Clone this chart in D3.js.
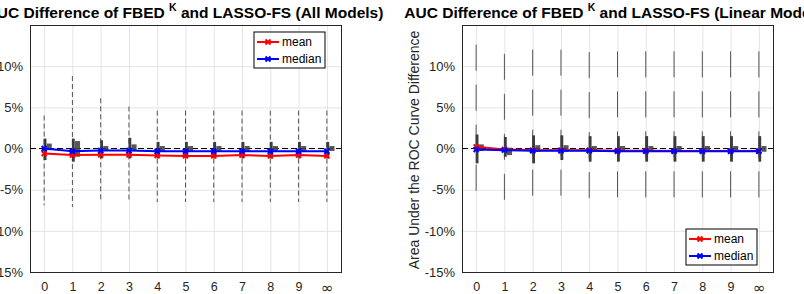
<!DOCTYPE html>
<html>
<head>
<meta charset="utf-8">
<script src="https://cdn.jsdelivr.net/npm/d3@7"></script>
<style>
  body { margin: 0; background: #fff; }
  svg { display: block; font-family: "Liberation Sans", Arial, sans-serif; }
</style>
</head>
<body>
<div id="root"></div>
<script>
// categories (K values) and y ticks
const categories = ['0', '1', '2', '3', '4', '5', '6', '7', '8', '9', '\u221E'];
const yTicks = [-15, -10, -5, 0, 5, 10];

// All Models panel (AUC difference, %)
const allMean = [-0.6, -0.8, -0.77, -0.77, -0.85, -0.9, -0.9, -0.8, -0.9, -0.8, -0.9];
const allMedian = [0, -0.33, -0.24, -0.24, -0.33, -0.33, -0.33, -0.33, -0.33, -0.33, -0.33];
const allWhiskerHi = [4.0, 8.8, 6.1, 5.1, 4.6, 4.6, 4.6, 4.6, 4.6, 4.6, 4.6];
const allWhiskerLo = [-6.9, -7.1, -6.5, -6.5, -6.5, -6.5, -6.5, -6.5, -6.5, -6.5, -6.5];
const allOuterHi = [1.2, 1.2, 1.0, 1.3, 0.8, 0.8, 0.8, 0.8, 0.8, 0.8, 0.8];
const allOuterLo = [-1.4, -1.6, -1.2, -1.2, -1.2, -1.2, -1.2, -1.2, -1.2, -1.2, -1.2];
const allBoxHi = [0.6, 0.9, 0.3, 0.5, 0.3, 0.3, 0.3, 0.3, 0.3, 0.3, 0.3];
const allBoxLo = [-0.2, -1.0, -0.2, -0.3, -0.3, -0.3, -0.3, -0.3, -0.3, -0.3, -0.3];

// Linear Models panel
const linMean = [0.2, -0.12, -0.22, -0.22, -0.22, -0.28, -0.28, -0.3, -0.3, -0.3, -0.3];
const linMedian = [-0.12, -0.2, -0.28, -0.28, -0.28, -0.33, -0.33, -0.33, -0.33, -0.33, -0.33];
const linWhiskerHi = [12.6, 11.5, 12.0, 12.0, 11.7, 11.8, 11.8, 11.8, 11.8, 11.8, 11.8];
const linWhiskerLo = [-6.5, -6.5, -6.5, -6.5, -6.5, -6.5, -6.5, -6.5, -6.5, -6.5, -6.5];
const linOuterHi = [1.7, 1.4, 1.6, 1.6, 1.5, 1.5, 1.5, 1.5, 1.5, 1.5, 1.5];
const linOuterLo = [-1.8, -1.0, -1.8, -1.4, -1.6, -1.6, -1.6, -1.6, -1.6, -1.6, -1.6];
const linBoxHi = [0.5, 0.1, 0.4, 0.4, 0.3, 0.3, 0.3, 0.3, 0.3, 0.3, 0.3];
const linBoxLo = [-0.3, -0.8, -0.4, -0.4, -0.4, -0.4, -0.4, -0.4, -0.4, -0.4, -0.4];

const width = 804, height = 294;
const plot = {left: 30, right: 341, top: 25, bottom: 272};

let svg = d3.select("#root").append("svg")
    .attr("width", width)
    .attr("height", height);

function drawPanel(offset, p) {
  const g = svg.append("g").attr("transform", "translate(" + offset + ",0)");

  const x = d3.scaleLinear().domain([-0.5, 10.5]).range([plot.left, plot.right]);
  const y = d3.scaleLinear().domain([-15, 15]).range([plot.bottom, plot.top]);
  const idx = d3.range(categories.length);

  // grid
  g.append("g")
    .attr("transform", "translate(0," + plot.bottom + ")")
    .call(d3.axisBottom(x).tickValues(idx).tickSize(-(plot.bottom - plot.top)).tickFormat(""))
    .call(a => a.select(".domain").remove())
    .selectAll("line").attr("stroke", "#e4e4e4");
  g.append("g")
    .attr("transform", "translate(" + plot.left + ",0)")
    .call(d3.axisLeft(y).tickValues(yTicks).tickSize(-(plot.right - plot.left)).tickFormat(""))
    .call(a => a.select(".domain").remove())
    .selectAll("line").attr("stroke", "#e4e4e4");

  // zero reference
  g.append("line")
    .attr("x1", plot.left).attr("x2", plot.right)
    .attr("y1", y(0)).attr("y2", y(0))
    .attr("stroke", "#000")
    .attr("stroke-dasharray", "6,3");

  // whiskers
  g.selectAll(".whisker")
    .data(idx)
    .enter().append("line")
    .attr("class", "whisker")
    .attr("x1", d => x(d)).attr("x2", d => x(d))
    .attr("y1", d => y(p.whiskerHi[d])).attr("y2", d => y(p.whiskerLo[d]))
    .attr("stroke", "#555")
    .attr("stroke-width", 1)
    .attr("stroke-dasharray", p.dash);

  // narrow bar
  g.selectAll(".outer")
    .data(idx)
    .enter().append("rect")
    .attr("class", "outer")
    .attr("x", d => x(d) - 0.5)
    .attr("width", d => x(d + 0.1) - x(d))
    .attr("y", d => y(p.outerHi[d]))
    .attr("height", d => y(p.outerLo[d]) - y(p.outerHi[d]))
    .attr("fill", "#3c3c3c");

  // box
  g.selectAll(".box")
    .data(idx)
    .enter().append("rect")
    .attr("class", "box")
    .attr("x", d => x(d + 0.09))
    .attr("width", d => x(d + 0.27) - x(d + 0.09))
    .attr("y", d => y(p.boxHi[d]))
    .attr("height", d => y(p.boxLo[d]) - y(p.boxHi[d]))
    .attr("fill", "#454545")
    .attr("opacity", 0.9);

  const line = d3.line().x((d, i) => x(i)).y(d => y(d));
  const series = [{values: p.mean, color: "#ff0000"}, {values: p.median, color: "#0000ff"}];

  series.forEach(s => {
    g.append("path")
      .datum(s.values)
      .attr("d", line)
      .attr("fill", "none")
      .attr("stroke", s.color)
      .attr("stroke-width", 2);
    g.selectAll(null)
      .data(s.values)
      .enter().append("path")
      .attr("transform", (d, i) => "translate(" + x(i) + "," + y(d) + ")")
      .attr("d", "M-2.5,-2.5L2.5,2.5M-2.5,2.5L2.5,-2.5")
      .attr("stroke", s.color)
      .attr("stroke-width", 2);
  });

  // axes labels
  g.append("g")
    .attr("transform", "translate(" + plot.left + ",0)")
    .call(d3.axisLeft(y).tickValues(yTicks).tickSize(0).tickPadding(7).tickFormat(d => d + "%"))
    .call(a => a.select(".domain").remove())
    .selectAll("text")
    .attr("font-family", "Liberation Sans, Arial, sans-serif")
    .attr("font-size", 13)
    .attr("fill", "#262626");

  g.append("g")
    .attr("transform", "translate(0," + plot.bottom + ")")
    .call(d3.axisBottom(x).tickValues(idx).tickSize(0).tickPadding(10).tickFormat(d => categories[d]))
    .call(a => a.select(".domain").remove())
    .selectAll("text")
    .attr("font-family", d => d === 10 ? "DejaVu Sans, sans-serif" : "Liberation Sans, Arial, sans-serif")
    .attr("font-size", d => d === 10 ? 15 : 12.5)
    .attr("dy", d => d === 10 ? "0.7em" : "0.71em")
    .attr("fill", "#262626");

  // frame
  g.append("rect")
    .attr("x", plot.left + 0.5).attr("y", plot.top + 0.5)
    .attr("width", plot.right - plot.left).attr("height", plot.bottom - plot.top)
    .attr("fill", "none")
    .attr("stroke", "#262626");

  // y label
  g.append("text")
    .attr("transform", "translate(-13,150) rotate(-90)")
    .style("text-anchor", "middle")
    .attr("font-size", 14)
    .attr("fill", "#262626")
    .text("Area Under the ROC Curve Difference");

  // title
  const t = g.append("text")
    .attr("x", (plot.left + plot.right) / 2 - 1)
    .attr("y", 18)
    .style("text-anchor", "middle")
    .attr("font-weight", "bold")
    .attr("font-size", 15.5)
    .attr("fill", "#000");
  t.append("tspan").text("AUC Difference of FBED ");
  t.append("tspan").attr("font-size", 10.5).attr("dy", -7).text("K");
  t.append("tspan").attr("dy", 7).text(" and LASSO-FS (" + p.name + ")");

  // legend
  const lg = g.append("g").attr("transform", "translate(" + p.legend[0] + "," + p.legend[1] + ")");
  lg.append("rect")
    .attr("width", 71).attr("height", 36)
    .attr("fill", "#fff")
    .attr("stroke", "#000");
  const items = lg.selectAll(".legend")
    .data([{color: "#ff0000", text: "mean"}, {color: "#0000ff", text: "median"}])
    .enter().append("g")
    .attr("class", "legend")
    .attr("transform", (d, i) => "translate(0," + (10 + i * 17) + ")");
  items.append("line")
    .attr("x1", 3).attr("x2", 25)
    .attr("stroke", d => d.color)
    .attr("stroke-width", 2);
  items.append("path")
    .attr("d", "M11.5,-2.5L16.5,2.5M11.5,2.5L16.5,-2.5")
    .attr("stroke", d => d.color)
    .attr("stroke-width", 2);
  items.append("text")
    .attr("x", 28)
    .attr("dy", ".35em")
    .attr("font-size", 12)
    .attr("fill", "#000")
    .text(d => d.text);
}

drawPanel(0, {
  name: "All Models",
  mean: allMean, median: allMedian,
  whiskerHi: allWhiskerHi, whiskerLo: allWhiskerLo,
  outerHi: allOuterHi, outerLo: allOuterLo,
  boxHi: allBoxHi, boxLo: allBoxLo,
  dash: "5,3",
  legend: [254, 32]
});

drawPanel(432, {
  name: "Linear Models",
  mean: linMean, median: linMedian,
  whiskerHi: linWhiskerHi, whiskerLo: linWhiskerLo,
  outerHi: linOuterHi, outerLo: linOuterLo,
  boxHi: linBoxHi, boxLo: linBoxLo,
  dash: "26,14",
  legend: [254, 229]
});
</script>
</body>
</html>
